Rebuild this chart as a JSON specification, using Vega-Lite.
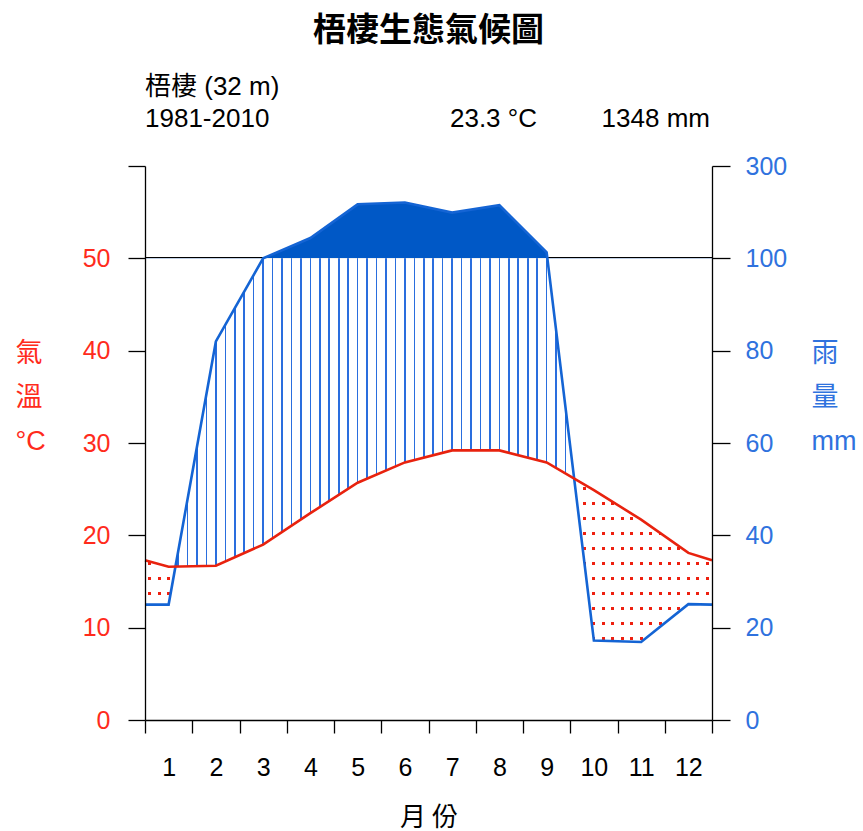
{
"$schema": "https://vega.github.io/schema/vega-lite/v6.json",
"width": 567, "height": 554,
"autosize": "none",
"padding": {"left": 145, "top": 166, "right": 151, "bottom": 111},
"background": "white",
"config": {"view": {"stroke": null}, "axis": {"grid": false, "zindex": 1, "domain": true}, "font": "Liberation Sans"},
"title": {"text": "梧棲生態氣候圖", "font": "Noto Sans CJK TC", "fontSize": 33, "fontWeight": "bold", "color": "#000", "anchor": "middle", "offset": 26},
"data": {"values": [
{"month": 0.5, "temp": 17.3, "precip": 25},
{"month": 1, "temp": 16.6, "precip": 25},
{"month": 2, "temp": 16.7, "precip": 82},
{"month": 3, "temp": 19.0, "precip": 100},
{"month": 4, "temp": 22.4, "precip": 144},
{"month": 5, "temp": 25.7, "precip": 217},
{"month": 6, "temp": 27.9, "precip": 221},
{"month": 7, "temp": 29.2, "precip": 199},
{"month": 8, "temp": 29.2, "precip": 215},
{"month": 9, "temp": 27.9, "precip": 113},
{"month": 10, "temp": 24.9, "precip": 17.2},
{"month": 11, "temp": 21.7, "precip": 16.9},
{"month": 12, "temp": 18.1, "precip": 25.1},
{"month": 12.5, "temp": 17.3, "precip": 25}
]},
"transform": [
{"calculate": "datum.precip <= 100 ? datum.precip / 2 : 50 + (datum.precip - 100) / 20", "as": "p_scaled"},
{"calculate": "min(datum.p_scaled, 50)", "as": "p_low"},
{"calculate": "min(datum.p_scaled, datum.temp)", "as": "dry_low"}
],
"layer": [
{"data": {"values": [{}]},
 "mark": {"type": "rule", "color": "#000", "strokeWidth": 2.6},
 "encoding": {"y": {"datum": 50, "type": "quantitative", "scale": {"domain": [0, 60], "nice": false}, "axis": null}}},
{"mark": {"type": "area", "fill": "#0058c6", "stroke": null},
 "encoding": {
  "x": {"field": "month", "type": "quantitative", "scale": {"domain": [0.5, 12.5], "nice": false, "zero": false}, "axis": null},
  "y": {"field": "p_scaled", "type": "quantitative", "scale": {"domain": [0, 60], "nice": false}, "axis": null},
  "y2": {"datum": 50}}},
{"data": {"values": [{}]},
 "mark": {"type": "rect", "fill": "#ffffff", "stroke": null},
 "encoding": {
  "x": {"datum": 0.5, "type": "quantitative", "scale": {"domain": [0.5, 12.5], "nice": false, "zero": false}, "axis": null},
  "x2": {"datum": 12.5},
  "y": {"datum": 0, "type": "quantitative", "scale": {"domain": [0, 60], "nice": false}, "axis": null},
  "y2": {"datum": 50}}},
{"mark": {"type": "area", "stroke": null, "fill": {"gradient": "linear", "x1": 0, "y1": 0, "x2": 1, "y2": 0, "stops": [
{"offset":0,"color":"#fff"},
{"offset":0.00569,"color":"#fff"},{"offset":0.00569,"color":"#ee2010"},{"offset":0.01098,"color":"#ee2010"},{"offset":0.01098,"color":"#fff"},
{"offset":0.02235,"color":"#fff"},{"offset":0.02235,"color":"#ee2010"},{"offset":0.02765,"color":"#ee2010"},{"offset":0.02765,"color":"#fff"},
{"offset":0.03902,"color":"#fff"},{"offset":0.03902,"color":"#ee2010"},{"offset":0.04431,"color":"#ee2010"},{"offset":0.04431,"color":"#fff"},
{"offset":0.05693,"color":"#fff"},{"offset":0.05693,"color":"#2a6ede"},{"offset":0.05974,"color":"#2a6ede"},{"offset":0.05974,"color":"#fff"},
{"offset":0.0736,"color":"#fff"},{"offset":0.0736,"color":"#2a6ede"},{"offset":0.0764,"color":"#2a6ede"},{"offset":0.0764,"color":"#fff"},
{"offset":0.09026,"color":"#fff"},{"offset":0.09026,"color":"#2a6ede"},{"offset":0.09307,"color":"#2a6ede"},{"offset":0.09307,"color":"#fff"},
{"offset":0.10693,"color":"#fff"},{"offset":0.10693,"color":"#2a6ede"},{"offset":0.10974,"color":"#2a6ede"},{"offset":0.10974,"color":"#fff"},
{"offset":0.1236,"color":"#fff"},{"offset":0.1236,"color":"#2a6ede"},{"offset":0.1264,"color":"#2a6ede"},{"offset":0.1264,"color":"#fff"},
{"offset":0.14026,"color":"#fff"},{"offset":0.14026,"color":"#2a6ede"},{"offset":0.14307,"color":"#2a6ede"},{"offset":0.14307,"color":"#fff"},
{"offset":0.15693,"color":"#fff"},{"offset":0.15693,"color":"#2a6ede"},{"offset":0.15974,"color":"#2a6ede"},{"offset":0.15974,"color":"#fff"},
{"offset":0.1736,"color":"#fff"},{"offset":0.1736,"color":"#2a6ede"},{"offset":0.1764,"color":"#2a6ede"},{"offset":0.1764,"color":"#fff"},
{"offset":0.19026,"color":"#fff"},{"offset":0.19026,"color":"#2a6ede"},{"offset":0.19307,"color":"#2a6ede"},{"offset":0.19307,"color":"#fff"},
{"offset":0.20693,"color":"#fff"},{"offset":0.20693,"color":"#2a6ede"},{"offset":0.20974,"color":"#2a6ede"},{"offset":0.20974,"color":"#fff"},
{"offset":0.2236,"color":"#fff"},{"offset":0.2236,"color":"#2a6ede"},{"offset":0.2264,"color":"#2a6ede"},{"offset":0.2264,"color":"#fff"},
{"offset":0.24026,"color":"#fff"},{"offset":0.24026,"color":"#2a6ede"},{"offset":0.24307,"color":"#2a6ede"},{"offset":0.24307,"color":"#fff"},
{"offset":0.25693,"color":"#fff"},{"offset":0.25693,"color":"#2a6ede"},{"offset":0.25974,"color":"#2a6ede"},{"offset":0.25974,"color":"#fff"},
{"offset":0.2736,"color":"#fff"},{"offset":0.2736,"color":"#2a6ede"},{"offset":0.2764,"color":"#2a6ede"},{"offset":0.2764,"color":"#fff"},
{"offset":0.29026,"color":"#fff"},{"offset":0.29026,"color":"#2a6ede"},{"offset":0.29307,"color":"#2a6ede"},{"offset":0.29307,"color":"#fff"},
{"offset":0.30693,"color":"#fff"},{"offset":0.30693,"color":"#2a6ede"},{"offset":0.30974,"color":"#2a6ede"},{"offset":0.30974,"color":"#fff"},
{"offset":0.3236,"color":"#fff"},{"offset":0.3236,"color":"#2a6ede"},{"offset":0.3264,"color":"#2a6ede"},{"offset":0.3264,"color":"#fff"},
{"offset":0.34026,"color":"#fff"},{"offset":0.34026,"color":"#2a6ede"},{"offset":0.34307,"color":"#2a6ede"},{"offset":0.34307,"color":"#fff"},
{"offset":0.35693,"color":"#fff"},{"offset":0.35693,"color":"#2a6ede"},{"offset":0.35974,"color":"#2a6ede"},{"offset":0.35974,"color":"#fff"},
{"offset":0.3736,"color":"#fff"},{"offset":0.3736,"color":"#2a6ede"},{"offset":0.3764,"color":"#2a6ede"},{"offset":0.3764,"color":"#fff"},
{"offset":0.39026,"color":"#fff"},{"offset":0.39026,"color":"#2a6ede"},{"offset":0.39307,"color":"#2a6ede"},{"offset":0.39307,"color":"#fff"},
{"offset":0.40693,"color":"#fff"},{"offset":0.40693,"color":"#2a6ede"},{"offset":0.40974,"color":"#2a6ede"},{"offset":0.40974,"color":"#fff"},
{"offset":0.4236,"color":"#fff"},{"offset":0.4236,"color":"#2a6ede"},{"offset":0.4264,"color":"#2a6ede"},{"offset":0.4264,"color":"#fff"},
{"offset":0.44026,"color":"#fff"},{"offset":0.44026,"color":"#2a6ede"},{"offset":0.44307,"color":"#2a6ede"},{"offset":0.44307,"color":"#fff"},
{"offset":0.45693,"color":"#fff"},{"offset":0.45693,"color":"#2a6ede"},{"offset":0.45974,"color":"#2a6ede"},{"offset":0.45974,"color":"#fff"},
{"offset":0.4736,"color":"#fff"},{"offset":0.4736,"color":"#2a6ede"},{"offset":0.4764,"color":"#2a6ede"},{"offset":0.4764,"color":"#fff"},
{"offset":0.49026,"color":"#fff"},{"offset":0.49026,"color":"#2a6ede"},{"offset":0.49307,"color":"#2a6ede"},{"offset":0.49307,"color":"#fff"},
{"offset":0.50693,"color":"#fff"},{"offset":0.50693,"color":"#2a6ede"},{"offset":0.50974,"color":"#2a6ede"},{"offset":0.50974,"color":"#fff"},
{"offset":0.5236,"color":"#fff"},{"offset":0.5236,"color":"#2a6ede"},{"offset":0.5264,"color":"#2a6ede"},{"offset":0.5264,"color":"#fff"},
{"offset":0.54026,"color":"#fff"},{"offset":0.54026,"color":"#2a6ede"},{"offset":0.54307,"color":"#2a6ede"},{"offset":0.54307,"color":"#fff"},
{"offset":0.55693,"color":"#fff"},{"offset":0.55693,"color":"#2a6ede"},{"offset":0.55974,"color":"#2a6ede"},{"offset":0.55974,"color":"#fff"},
{"offset":0.5736,"color":"#fff"},{"offset":0.5736,"color":"#2a6ede"},{"offset":0.5764,"color":"#2a6ede"},{"offset":0.5764,"color":"#fff"},
{"offset":0.59026,"color":"#fff"},{"offset":0.59026,"color":"#2a6ede"},{"offset":0.59307,"color":"#2a6ede"},{"offset":0.59307,"color":"#fff"},
{"offset":0.60693,"color":"#fff"},{"offset":0.60693,"color":"#2a6ede"},{"offset":0.60974,"color":"#2a6ede"},{"offset":0.60974,"color":"#fff"},
{"offset":0.6236,"color":"#fff"},{"offset":0.6236,"color":"#2a6ede"},{"offset":0.6264,"color":"#2a6ede"},{"offset":0.6264,"color":"#fff"},
{"offset":0.64026,"color":"#fff"},{"offset":0.64026,"color":"#2a6ede"},{"offset":0.64307,"color":"#2a6ede"},{"offset":0.64307,"color":"#fff"},
{"offset":0.65693,"color":"#fff"},{"offset":0.65693,"color":"#2a6ede"},{"offset":0.65974,"color":"#2a6ede"},{"offset":0.65974,"color":"#fff"},
{"offset":0.6736,"color":"#fff"},{"offset":0.6736,"color":"#2a6ede"},{"offset":0.6764,"color":"#2a6ede"},{"offset":0.6764,"color":"#fff"},
{"offset":0.69026,"color":"#fff"},{"offset":0.69026,"color":"#2a6ede"},{"offset":0.69307,"color":"#2a6ede"},{"offset":0.69307,"color":"#fff"},
{"offset":0.70693,"color":"#fff"},{"offset":0.70693,"color":"#2a6ede"},{"offset":0.70974,"color":"#2a6ede"},{"offset":0.70974,"color":"#fff"},
{"offset":0.7236,"color":"#fff"},{"offset":0.7236,"color":"#2a6ede"},{"offset":0.7264,"color":"#2a6ede"},{"offset":0.7264,"color":"#fff"},
{"offset":0.74026,"color":"#fff"},{"offset":0.74026,"color":"#2a6ede"},{"offset":0.74307,"color":"#2a6ede"},{"offset":0.74307,"color":"#fff"},
{"offset":0.75568,"color":"#fff"},{"offset":0.75568,"color":"#ee2010"},{"offset":0.76098,"color":"#ee2010"},{"offset":0.76098,"color":"#fff"},
{"offset":0.77235,"color":"#fff"},{"offset":0.77235,"color":"#ee2010"},{"offset":0.77765,"color":"#ee2010"},{"offset":0.77765,"color":"#fff"},
{"offset":0.78902,"color":"#fff"},{"offset":0.78902,"color":"#ee2010"},{"offset":0.79432,"color":"#ee2010"},{"offset":0.79432,"color":"#fff"},
{"offset":0.80568,"color":"#fff"},{"offset":0.80568,"color":"#ee2010"},{"offset":0.81098,"color":"#ee2010"},{"offset":0.81098,"color":"#fff"},
{"offset":0.82235,"color":"#fff"},{"offset":0.82235,"color":"#ee2010"},{"offset":0.82765,"color":"#ee2010"},{"offset":0.82765,"color":"#fff"},
{"offset":0.83902,"color":"#fff"},{"offset":0.83902,"color":"#ee2010"},{"offset":0.84432,"color":"#ee2010"},{"offset":0.84432,"color":"#fff"},
{"offset":0.85568,"color":"#fff"},{"offset":0.85568,"color":"#ee2010"},{"offset":0.86098,"color":"#ee2010"},{"offset":0.86098,"color":"#fff"},
{"offset":0.87235,"color":"#fff"},{"offset":0.87235,"color":"#ee2010"},{"offset":0.87765,"color":"#ee2010"},{"offset":0.87765,"color":"#fff"},
{"offset":0.88902,"color":"#fff"},{"offset":0.88902,"color":"#ee2010"},{"offset":0.89432,"color":"#ee2010"},{"offset":0.89432,"color":"#fff"},
{"offset":0.90568,"color":"#fff"},{"offset":0.90568,"color":"#ee2010"},{"offset":0.91098,"color":"#ee2010"},{"offset":0.91098,"color":"#fff"},
{"offset":0.92235,"color":"#fff"},{"offset":0.92235,"color":"#ee2010"},{"offset":0.92765,"color":"#ee2010"},{"offset":0.92765,"color":"#fff"},
{"offset":0.93902,"color":"#fff"},{"offset":0.93902,"color":"#ee2010"},{"offset":0.94432,"color":"#ee2010"},{"offset":0.94432,"color":"#fff"},
{"offset":0.95568,"color":"#fff"},{"offset":0.95568,"color":"#ee2010"},{"offset":0.96098,"color":"#ee2010"},{"offset":0.96098,"color":"#fff"},
{"offset":0.97235,"color":"#fff"},{"offset":0.97235,"color":"#ee2010"},{"offset":0.97765,"color":"#ee2010"},{"offset":0.97765,"color":"#fff"},
{"offset":0.98902,"color":"#fff"},{"offset":0.98902,"color":"#ee2010"},{"offset":0.99432,"color":"#ee2010"},{"offset":0.99432,"color":"#fff"},
{"offset":1,"color":"#fff"}
]}},
 "encoding": {
  "x": {"field": "month", "type": "quantitative", "scale": {"domain": [0.5, 12.5], "nice": false, "zero": false}, "axis": null},
  "y": {"field": "p_low", "type": "quantitative", "scale": {"domain": [0, 60], "nice": false}, "axis": null},
  "y2": {"field": "temp"}}},
{"mark": {"type": "area", "stroke": null, "fill": {"gradient": "linear", "x1": 0, "y1": 0, "x2": 0, "y2": 1, "stops": [
{"offset":0,"color":"#ffffff"},
{"offset":0.0335,"color":"#ffffff"},{"offset":0.0335,"color":"rgba(255,255,255,0)"},{"offset":0.0491,"color":"rgba(255,255,255,0)"},{"offset":0.0491,"color":"#ffffff"},
{"offset":0.1118,"color":"#ffffff"},{"offset":0.1118,"color":"rgba(255,255,255,0)"},{"offset":0.1274,"color":"rgba(255,255,255,0)"},{"offset":0.1274,"color":"#ffffff"},
{"offset":0.1902,"color":"#ffffff"},{"offset":0.1902,"color":"rgba(255,255,255,0)"},{"offset":0.2058,"color":"rgba(255,255,255,0)"},{"offset":0.2058,"color":"#ffffff"},
{"offset":0.2686,"color":"#ffffff"},{"offset":0.2686,"color":"rgba(255,255,255,0)"},{"offset":0.2842,"color":"rgba(255,255,255,0)"},{"offset":0.2842,"color":"#ffffff"},
{"offset":0.3469,"color":"#ffffff"},{"offset":0.3469,"color":"rgba(255,255,255,0)"},{"offset":0.3626,"color":"rgba(255,255,255,0)"},{"offset":0.3626,"color":"#ffffff"},
{"offset":0.4253,"color":"#ffffff"},{"offset":0.4253,"color":"rgba(255,255,255,0)"},{"offset":0.4409,"color":"rgba(255,255,255,0)"},{"offset":0.4409,"color":"#ffffff"},
{"offset":0.5037,"color":"#ffffff"},{"offset":0.5037,"color":"rgba(255,255,255,0)"},{"offset":0.5193,"color":"rgba(255,255,255,0)"},{"offset":0.5193,"color":"#ffffff"},
{"offset":0.5821,"color":"#ffffff"},{"offset":0.5821,"color":"rgba(255,255,255,0)"},{"offset":0.5977,"color":"rgba(255,255,255,0)"},{"offset":0.5977,"color":"#ffffff"},
{"offset":0.6604,"color":"#ffffff"},{"offset":0.6604,"color":"rgba(255,255,255,0)"},{"offset":0.6760,"color":"rgba(255,255,255,0)"},{"offset":0.6760,"color":"#ffffff"},
{"offset":0.7388,"color":"#ffffff"},{"offset":0.7388,"color":"rgba(255,255,255,0)"},{"offset":0.7544,"color":"rgba(255,255,255,0)"},{"offset":0.7544,"color":"#ffffff"},
{"offset":0.8172,"color":"#ffffff"},{"offset":0.8172,"color":"rgba(255,255,255,0)"},{"offset":0.8328,"color":"rgba(255,255,255,0)"},{"offset":0.8328,"color":"#ffffff"},
{"offset":0.8955,"color":"#ffffff"},{"offset":0.8955,"color":"rgba(255,255,255,0)"},{"offset":0.9111,"color":"rgba(255,255,255,0)"},{"offset":0.9111,"color":"#ffffff"},
{"offset":0.9739,"color":"#ffffff"},{"offset":0.9739,"color":"rgba(255,255,255,0)"},{"offset":0.9895,"color":"rgba(255,255,255,0)"},{"offset":0.9895,"color":"#ffffff"},
{"offset":1,"color":"#ffffff"}
]}},
 "encoding": {
  "x": {"field": "month", "type": "quantitative", "scale": {"domain": [0.5, 12.5], "nice": false, "zero": false}, "axis": null},
  "y": {"field": "dry_low", "type": "quantitative", "scale": {"domain": [0, 60], "nice": false}, "axis": null},
  "y2": {"field": "temp"}}},
{"mark": {"type": "line", "color": "#1464d4", "strokeWidth": 2.6},
 "encoding": {
  "x": {"field": "month", "type": "quantitative", "scale": {"domain": [0.5, 12.5], "nice": false, "zero": false},
   "axis": {"orient": "bottom", "zindex": 1, "values": [0.5, 1, 1.5, 2, 2.5, 3, 3.5, 4, 4.5, 5, 5.5, 6, 6.5, 7, 7.5, 8, 8.5, 9, 9.5, 10, 10.5, 11, 11.5, 12, 12.5],
    "labelExpr": "datum.value % 1 == 0 ? format(datum.value, 'd') : ''",
    "tickOpacity": {"condition": {"test": "datum.value % 1 == 0", "value": 0}, "value": 1},
    "labelFontSize": 25, "labelFont": "Liberation Sans", "labelColor": "#000", "labelPadding": 22, "labelFlush": false, "labelOverlap": false, "labelBound": false,
    "tickSize": 13, "tickColor": "#000", "tickWidth": 1.3, "domain": true, "domainColor": "#000", "domainWidth": 1.3,
    "title": "月 份", "titleFont": "Noto Sans CJK TC", "titleFontSize": 26, "titleFontWeight": "normal", "titleColor": "#000",
    "titleBaseline": "alphabetic", "titleY": 105}},
  "y": {"field": "p_scaled", "type": "quantitative", "scale": {"domain": [0, 60], "nice": false},
   "axis": {"orient": "right", "zindex": 1, "values": [0, 10, 20, 30, 40, 50, 60],
    "labelExpr": "datum.value == 60 ? '300' : format(datum.value * 2, 'd')",
    "labelColor": "#2f72de", "labelFontSize": 25, "labelFont": "Liberation Sans", "labelAlign": "left", "labelPadding": 15,
    "tickSize": 18, "tickColor": "#000", "tickWidth": 1.3, "domain": true, "domainColor": "#000", "domainWidth": 1.3,
    "title": ["雨", "量", "mm"], "titleColor": "#2f72de", "titleFont": "Liberation Sans, Noto Sans CJK TC", "titleFontSize": 27, "titleFontWeight": "normal",
    "titleAngle": 0, "titleAlign": "left", "titleBaseline": "top", "titleX": 99, "titleY": 174.5, "titleLineHeight": 44}}}},
{"mark": {"type": "line", "color": "#e8220e", "strokeWidth": 2.6},
 "encoding": {
  "x": {"field": "month", "type": "quantitative", "scale": {"domain": [0.5, 12.5], "nice": false, "zero": false}, "axis": null},
  "y": {"field": "temp", "type": "quantitative", "scale": {"domain": [0, 60], "nice": false},
   "axis": {"orient": "left", "zindex": 1, "values": [0, 10, 20, 30, 40, 50, 60],
    "labelExpr": "datum.value == 60 ? '' : format(datum.value, 'd')",
    "labelColor": "#ff2b1c", "labelFontSize": 25, "labelFont": "Liberation Sans", "labelPadding": 18,
    "tickSize": 17, "tickColor": "#000", "tickWidth": 1.3, "domain": true, "domainColor": "#000", "domainWidth": 1.3,
    "title": ["氣", "溫", "°C"], "titleColor": "#ff2b1c", "titleFont": "Liberation Sans, Noto Sans CJK TC", "titleFontSize": 27, "titleFontWeight": "normal",
    "titleAngle": 0, "titleAlign": "left", "titleBaseline": "top", "titleX": -130, "titleY": 174.5, "titleLineHeight": 44}}}},
{"data": {"values": [{}]},
 "mark": {"type": "text", "text": "梧棲 (32 m)", "font": "Liberation Sans, Noto Sans CJK TC", "fontSize": 26, "color": "#000", "align": "left", "baseline": "middle"},
 "encoding": {"x": {"datum": 0.5, "type": "quantitative", "axis": null}, "y": {"datum": 68.6, "type": "quantitative", "axis": null}}},
{"data": {"values": [{}]},
 "mark": {"type": "text", "text": "1981-2010", "font": "Liberation Sans", "fontSize": 26, "color": "#000", "align": "left", "baseline": "middle"},
 "encoding": {"x": {"datum": 0.5, "type": "quantitative", "axis": null}, "y": {"datum": 65.14, "type": "quantitative", "axis": null}}},
{"data": {"values": [{}]},
 "mark": {"type": "text", "text": "23.3 °C", "font": "Liberation Sans", "fontSize": 26, "color": "#000", "align": "right", "baseline": "middle"},
 "encoding": {"x": {"datum": 8.796, "type": "quantitative", "axis": null}, "y": {"datum": 65.14, "type": "quantitative", "axis": null}}},
{"data": {"values": [{}]},
 "mark": {"type": "text", "text": "1348 mm", "font": "Liberation Sans", "fontSize": 26, "color": "#000", "align": "right", "baseline": "middle"},
 "encoding": {"x": {"datum": 12.458, "type": "quantitative", "axis": null}, "y": {"datum": 65.14, "type": "quantitative", "axis": null}}}
],
"resolve": {"axis": {"x": "independent", "y": "independent"}}
}
